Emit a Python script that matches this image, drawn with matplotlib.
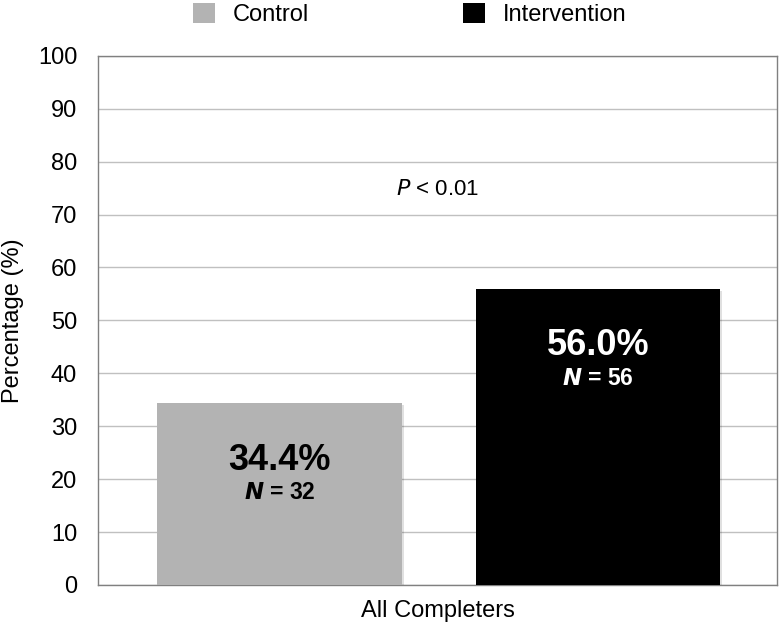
import matplotlib

matplotlib.use("Agg")
import matplotlib.pyplot as plt
import matplotlib.patheffects as pe
from matplotlib.patches import Patch

plt.rcParams["font.family"] = ["Liberation Sans", "DejaVu Sans"]

groups = ["Control", "Intervention"]
values = [34.4, 56.0]
counts = [32, 56]
category = "All Completers"
p_text = "< 0.01"

colors = ["#b3b3b3", "#000000"]
text_colors = ["#000000", "#ffffff"]
offsets = [-0.233, 0.236]
bar_width = 0.36

fig = plt.figure(figsize=(7.8, 6.27), dpi=100)
ax = fig.add_axes([0.1256, 0.067, 0.871, 0.844])

shadow = [pe.SimplePatchShadow(offset=(1.5, -1.5), shadow_rgbFace="#000000", alpha=0.12), pe.Normal()]
for off, val, n, col, tcol in zip(offsets, values, counts, colors, text_colors):
    bars = ax.bar(off, val, width=bar_width, color=col, zorder=3)
    for b in bars:
        b.set_path_effects(shadow)
    ax.text(off, val - 10.8, f"{val:.1f}%", ha="center", va="center",
            fontsize=26, fontweight="bold", color=tcol, zorder=4)
    ax.text(off, val - 16.9, f"$\\mathbfit{{N}}$ = {n}", ha="center", va="center",
            fontsize=16.5, fontweight="bold", color=tcol, zorder=4)

ax.text(0.0, 74.7, "$\\mathit{P}$ " + p_text, ha="center", va="center", fontsize=16)

ax.set_xlim(-0.5, 0.5)
ax.set_ylim(0, 100)
ax.set_yticks(range(0, 101, 10))
ax.set_xticks([0])
ax.set_xticklabels([category])
ax.tick_params(axis="both", length=0, labelsize=17)
ax.tick_params(axis="y", pad=15)
ax.tick_params(axis="x", pad=11)
ax.set_ylabel("Percentage (%)", fontsize=17, labelpad=10)
ax.grid(axis="y", color="#c0c0c0", linewidth=1.0, zorder=0)
for side in ax.spines.values():
    side.set_color("#808080")
    side.set_linewidth(1.0)

handles = [Patch(facecolor=c, edgecolor="none") for c in colors]
fig.legend(handles, groups, loc="center", bbox_to_anchor=(0.525, 0.977), ncol=2,
           frameon=False, fontsize=17, handlelength=0.93, handleheight=0.9,
           columnspacing=6.5, handletextpad=0.76, borderpad=0, borderaxespad=0)

fig.savefig("out.png", dpi=100)
